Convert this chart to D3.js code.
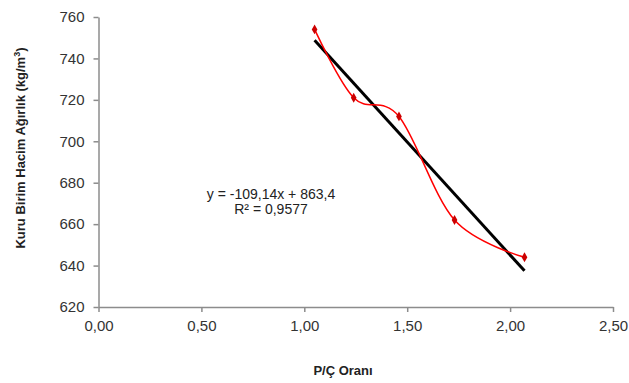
<!DOCTYPE html>
<html>
<head>
<meta charset="utf-8">
<script src="https://d3js.org/d3.v7.min.js"></script>
<style>
  body {margin: 0; background: #fff; font-family: "Liberation Sans", Arial, sans-serif;}
</style>
</head>
<body>
<script>
// data
var pcRatio = [1.05, 1.24, 1.46, 1.73, 2.07]
var density = [754, 721, 712, 662, 644]
var slope = -109.14, intercept = 863.4
var xTicks = [0, 0.5, 1, 1.5, 2, 2.5]
var yTicks = [620, 640, 660, 680, 700, 720, 740, 760]
var eqLines = ["y = -109,14x + 863,4", "R\u00b2 = 0,9577"]

var width = 629, height = 383
var svg = d3.select("body").append("svg")
    .attr("width", width)
    .attr("height", height)

var x = d3.scaleLinear().domain([0, 2.5]).range([98.5, 613])
var y = d3.scaleLinear().domain([620, 760]).range([307, 17])

var fmt = function(d) { return d3.format(".2f")(d).replace(".", ",") }

// axes
var xAxis = svg.append("g")
    .attr("transform", "translate(0," + y(620) + ")")
    .call(d3.axisBottom(x).tickValues(xTicks).tickFormat(fmt).tickSize(5).tickPadding(8).tickSizeOuter(0))
var yAxis = svg.append("g")
    .attr("transform", "translate(" + x(0) + ",0)")
    .call(d3.axisLeft(y).tickValues(yTicks).tickSize(5).tickPadding(9).tickSizeOuter(0))

svg.selectAll(".domain, .tick line").attr("stroke", "#8c8c8c").attr("stroke-width", 1.5)
svg.selectAll(".tick text")
    .attr("fill", "#333")
    .style("font-size", "15px")
    .style("font-family", "Liberation Sans, Arial, sans-serif")

// smoothed data line
var pts = pcRatio.map(function(d, i) { return [d, density[i]] })
var line = d3.line()
    .x(function(d) { return x(d[0]) })
    .y(function(d) { return y(d[1]) })
    .curve(d3.curveCatmullRom.alpha(0))

// trendline
var x0 = d3.min(pcRatio), x1 = d3.max(pcRatio)
svg.append("line")
    .attr("x1", x(x0)).attr("y1", y(slope * x0 + intercept))
    .attr("x2", x(x1)).attr("y2", y(slope * x1 + intercept))
    .attr("stroke", "#000")
    .attr("stroke-width", 3)

svg.append("path")
    .datum(pts)
    .attr("d", line)
    .attr("fill", "none")
    .attr("stroke", "#ff0000")
    .attr("stroke-width", 1.5)

svg.append("g").selectAll("path")
    .data(pts)
    .enter().append("path")
    .attr("d", d3.symbol(d3.symbolDiamond, 28))
    .attr("transform", function(d) { return "translate(" + x(d[0]) + "," + y(d[1]) + ")" })
    .attr("fill", "#cc0000")

// equation
svg.append("g").selectAll("text")
    .data(eqLines)
    .enter().append("text")
    .attr("x", 271)
    .attr("y", function(d, i) { return 199 + i * 15 })
    .attr("text-anchor", "middle")
    .style("font-size", "14px")
    .attr("fill", "#222")
    .text(function(d) { return d })

// axis titles
svg.append("text")
    .attr("x", 343).attr("y", 375)
    .attr("text-anchor", "middle")
    .style("font-size", "13px").style("font-weight", "bold")
    .attr("fill", "#222")
    .text("P/Ç Oranı")

var yt = svg.append("text")
    .attr("transform", "translate(25,148) rotate(-90)")
    .attr("text-anchor", "middle")
    .style("font-size", "13px").style("font-weight", "bold")
    .attr("fill", "#222")
yt.append("tspan").text("Kuru Birim Hacim Ağırlık (kg/m")
yt.append("tspan").attr("baseline-shift", "super").style("font-size", "9px").text("3")
yt.append("tspan").text(")")
</script>
</body>
</html>
